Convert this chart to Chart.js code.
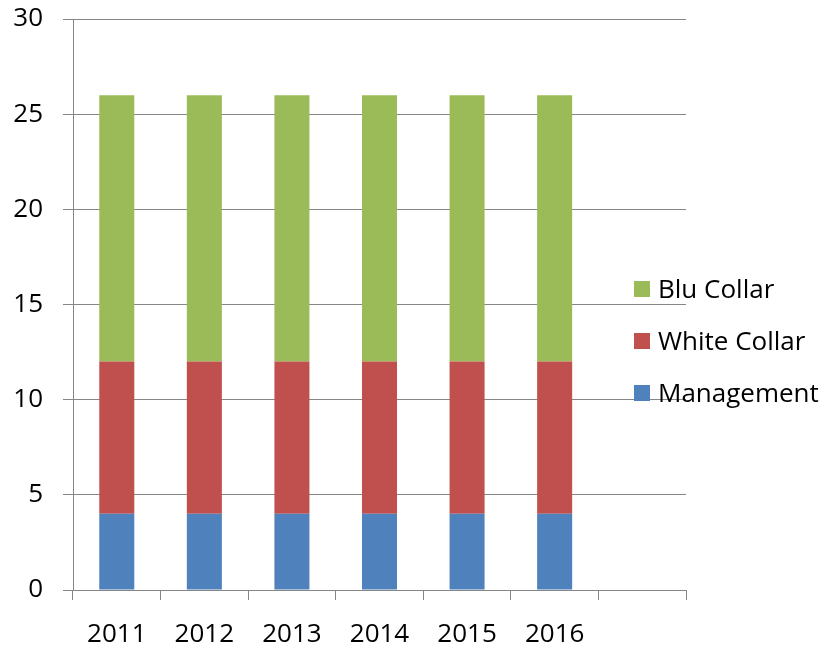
<!DOCTYPE html>
<html lang="en">
<head>
    <meta charset="UTF-8">
    <title>Staff by Category</title>
    <script src="https://cdn.jsdelivr.net/npm/chart.js"></script>
    <style>
        html, body { margin: 0; padding: 0; background: #fff; }
        #wrap { position: relative; width: 836px; height: 650px; }
        #legend {
            position: absolute; left: 634px; top: 270px;
            font-family: "Open Sans", sans-serif; font-size: 26px; color: #000;
        }
        #legend div { height: 52px; line-height: 36px; white-space: nowrap; }
        #legend span.box { display: inline-block; width: 16px; height: 16px; margin-right: 8px; vertical-align: 1px; }
    </style>
</head>
<body>
    <div id="wrap">
        <canvas id="staffChart" width="836" height="650"></canvas>
        <div id="legend"></div>
    </div>

    <script>
        // categories (last slot is left empty like in the original)
        const years = ['2011', '2012', '2013', '2014', '2015', '2016', ''];
        const management = [4, 4, 4, 4, 4, 4, null];
        const whiteCollar = [8, 8, 8, 8, 8, 8, null];
        const bluCollar = [14, 14, 14, 14, 14, 14, null];
        const yTicks = [0, 5, 10, 15, 20, 25, 30];

        const datasets = [
            { label: 'Management', data: management, backgroundColor: '#4F81BD' },
            { label: 'White Collar', data: whiteCollar, backgroundColor: '#C0504D' },
            { label: 'Blu Collar', data: bluCollar, backgroundColor: '#9BBB59' }
        ];

        const ctx = document.getElementById('staffChart').getContext('2d');
        new Chart(ctx, {
            type: 'bar',
            data: {
                labels: years,
                datasets: datasets.map(d => Object.assign({ categoryPercentage: 0.4, barPercentage: 1 }, d))
            },
            options: {
                responsive: false,
                animation: false,
                layout: { padding: { top: 19, right: 150, left: 0, bottom: 0 } },
                plugins: { legend: { display: false }, tooltip: { enabled: false } },
                scales: {
                    x: {
                        stacked: true,
                        afterFit: s => { s.height = 60; s.paddingLeft = 0; s.paddingRight = 0; },
                        border: { color: '#868686', width: 1 },
                        grid: { offset: true, drawOnChartArea: false, tickLength: 10, color: '#868686' },
                        ticks: { color: '#000', padding: 19, maxRotation: 0, font: { family: 'Open Sans', size: 26 } }
                    },
                    y: {
                        stacked: true,
                        min: 0,
                        max: 30,
                        afterFit: s => { s.width = 73; s.paddingTop = 0; s.paddingBottom = 0; },
                        afterBuildTicks: s => { s.ticks = yTicks.map(v => ({ value: v })); },
                        border: { color: '#868686', width: 1 },
                        grid: { color: '#868686', tickLength: 10 },
                        ticks: { color: '#000', padding: 20, font: { family: 'Open Sans', size: 26 } }
                    }
                }
            }
        });

        // legend listed top to bottom in reverse stacking order
        const legend = document.getElementById('legend');
        datasets.slice().reverse().forEach(d => {
            const row = document.createElement('div');
            row.innerHTML = '<span class="box" style="background:' + d.backgroundColor + '"></span>' + d.label;
            legend.appendChild(row);
        });
    </script>
</body>
</html>
